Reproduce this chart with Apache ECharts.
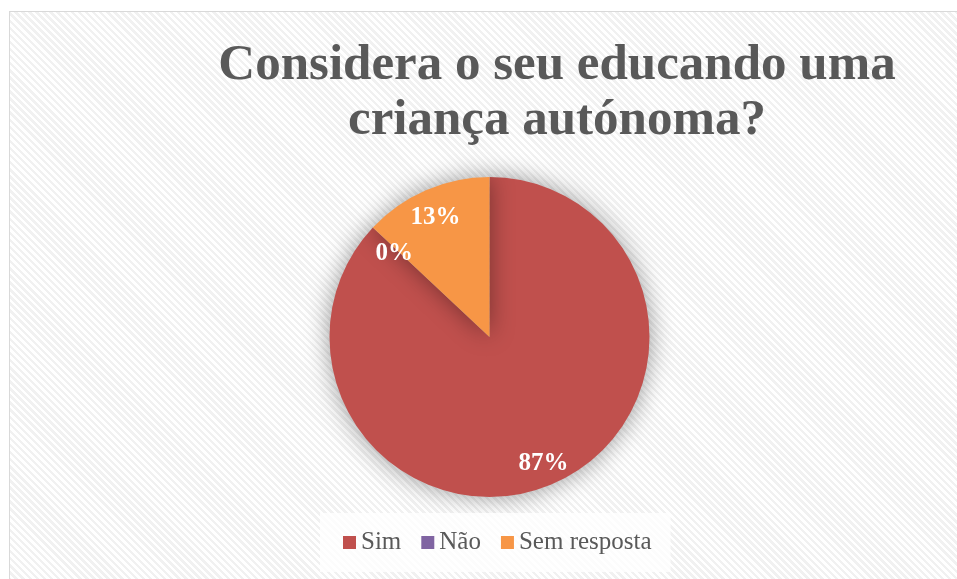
<!DOCTYPE html>
<html><head><meta charset="utf-8">
<script src="https://cdn.jsdelivr.net/npm/echarts@6/dist/echarts.min.js"></script>
<style>
html,body{margin:0;padding:0;background:#fff;}
#wrap{position:absolute;left:9px;top:11px;width:1100px;height:700px;border:1px solid #d9d9d9;
background:repeating-linear-gradient(45deg,#ffffff 0px,#ffffff 2.5px,#f1f1f1 2.5px,#f1f1f1 5px);}
#chart{position:absolute;left:0;top:0;width:957px;height:579px;}
</style></head>
<body>
<div id="wrap"></div>
<div id="chart"></div>
<script>
var titleText = 'Considera o seu educando uma\ncriança autónoma?';
var categories = ['Sim', 'Não', 'Sem resposta'];
var values = [87, 0, 13];
var colors = ['#C0504D', '#8064A2', '#F79646'];
var labelOffsets = [[0, 2], [4, 10], [0, 5]];

var data = categories.map(function (c, i) {
  return { name: c, value: values[i], itemStyle: { color: colors[i] } };
});

var chart = echarts.init(document.getElementById('chart'));
chart.setOption({
  backgroundColor: 'transparent',
  animation: false,
  title: {
    text: titleText,
    left: 552,
    textAlign: 'center',
    top: 33,
    textStyle: {
      fontFamily: 'Liberation Serif',
      fontWeight: 'bold',
      fontSize: 51,
      lineHeight: 55,
      color: '#595959'
    }
  },
  legend: {
    data: categories,
    left: 320,
    top: 513,
    orient: 'horizontal',
    backgroundColor: 'rgba(255,255,255,0.75)',
    padding: [17, 19, 17, 23],
    itemWidth: 13,
    itemHeight: 13,
    itemGap: 20,
    icon: 'rect',
    textStyle: {
      fontFamily: 'Liberation Serif',
      fontSize: 25,
      lineHeight: 25,
      color: '#595959'
    }
  },
  series: [
    {
      type: 'pie',
      center: [489.5, 337],
      radius: [0, 160],
      startAngle: 90,
      clockwise: true,
      data: data,
      label: { show: false },
      labelLine: { show: false },
      itemStyle: {
        shadowBlur: 24,
        shadowColor: 'rgba(0,0,0,0.4)'
      },
      silent: true
    },
    {
      type: 'pie',
      center: [489.5, 337],
      radius: [106, 160],
      startAngle: 90,
      clockwise: true,
      data: categories.map(function (c, i) {
        return {
          name: c, value: values[i],
          itemStyle: { color: 'rgba(0,0,0,0)' },
          label: { offset: labelOffsets[i] }
        };
      }),
      legendHoverLink: false,
      percentPrecision: 0,
      label: {
        show: true,
        position: 'inside',
        formatter: '{d}%',
        fontFamily: 'Liberation Serif',
        fontWeight: 'bold',
        fontSize: 25,
        color: '#ffffff'
      },
      labelLine: { show: false },
      silent: true
    }
  ]
});
</script>
</body></html>
